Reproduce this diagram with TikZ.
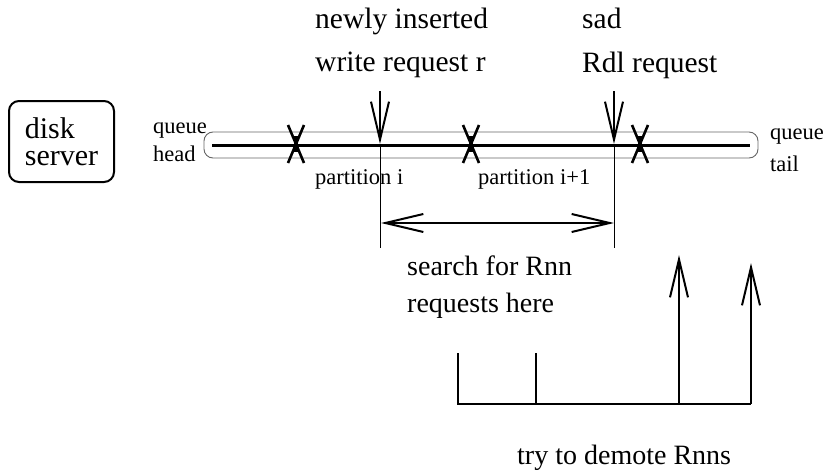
\documentclass[tikz,border=0pt]{standalone}
\usepackage{fontspec}
\setmainfont{Liberation Serif}
\usetikzlibrary{arrows.meta}
\begin{document}
\begin{tikzpicture}[x=1pt,y=-1pt,
  big/.style={font=\fontsize{29.5}{34}\selectfont, inner sep=0pt, anchor=base west},
  small/.style={font=\fontsize{22.5}{26}\selectfont, inner sep=0pt, anchor=base west},
  barbtip/.tip={Straight Barb[length=38pt,width=18pt,line width=2pt]},
  barb/.style={-barbtip},
  dbarb/.style={barbtip-barbtip},
  heavy/.style={line width=2.2pt},
  hair/.style={line width=0.8pt},
  xmark/.style={line width=2.6pt},
]
\useasboundingbox (0,0) rectangle (825,471);

% disk server box
\node[draw, line width=2pt, rounded corners=10pt, minimum width=105pt, minimum height=81pt,
      inner sep=0pt, align=left, font=\fontsize{30}{27}\selectfont] (disk) at (61.5,141.5) {disk\\server};

% queue bar
\node[draw=black!60, line width=0.9pt, rounded corners=9pt, minimum width=554pt, minimum height=26pt,
      inner sep=0pt] (bar) at (481,145) {};
\coordinate (qL) at (212,145);
\coordinate (qR) at (750,145);
\draw[line width=3pt] (qL) -- (qR);

% labels of queue ends
\node[small] (qh1) at (153,133) {queue};
\node[small] (qh2) at (153,161) {head};
\node[small] (qt1) at (770,139) {queue};
\node[small] (qt2) at (770,171) {tail};

% X marks (partition boundaries)
\foreach \n/\x in {x1/296, x2/471, x3/640} {
  \coordinate (\n) at (\x,144);
  \draw[xmark] ([shift={(-8,-19)}]\n) -- ([shift={(8,19)}]\n);
  \draw[xmark] ([shift={(8,-19)}]\n) -- ([shift={(-8,19)}]\n);
  \draw[line width=4pt] ([shift={(0,-8)}]\n) -- ([shift={(0,8)}]\n);
}

% top labels
\node[big] (t1) at (315,28) {newly inserted};
\node[big] (t2) at (315,71) {write request r};
\node[big] (t3) at (582,28) {sad};
\node[big] (t4) at (582,72) {Rdl request};

% down arrows
\coordinate (a1top) at (380,91);
\coordinate (a1tip) at (380,144);
\coordinate (a2top) at (614,91);
\coordinate (a2tip) at (614,144);
\draw[heavy, barb] (a1top) -- (a1tip);
\draw[heavy, barb] (a2top) -- (a2tip);

% thin guide lines
\coordinate (g1) at (380,248);
\coordinate (g2) at (614,248);
\draw[hair] (a1tip) -- (g1);
\draw[hair] (a2tip) -- (g2);

% partition labels
\node[small] (p1) at (315,184) {partition i};
\node[small] (p2) at (478,184) {partition i+1};

% double arrow
\coordinate (d1) at (381,223);
\coordinate (d2) at (614,223);
\draw[heavy, dbarb] (d1) -- (d2);

% search text
\node[big, font=\fontsize{28}{32}\selectfont] (s1) at (407,275) {search for Rnn};
\node[big, font=\fontsize{28}{32}\selectfont] (s2) at (407,312) {requests here};

% bottom structure
\coordinate (b1) at (458,404);
\coordinate (b2) at (536,404);
\coordinate (b3) at (679,404);
\coordinate (b4) at (751,404);
\coordinate (b1t) at (458,353);
\coordinate (b2t) at (536,353);
\coordinate (b3t) at (679,255);
\coordinate (b4t) at (751,263);
\draw[heavy] (b1t) -- (b1) -- (b4);
\draw[heavy] (b2t) -- (b2);
\draw[heavy, barb] (b3) -- (b3t);
\draw[heavy, barb] (b4) -- (b4t);

\node[big, font=\fontsize{28}{32}\selectfont] (dm) at (517,464) {try to demote Rnns};
\end{tikzpicture}
\end{document}
